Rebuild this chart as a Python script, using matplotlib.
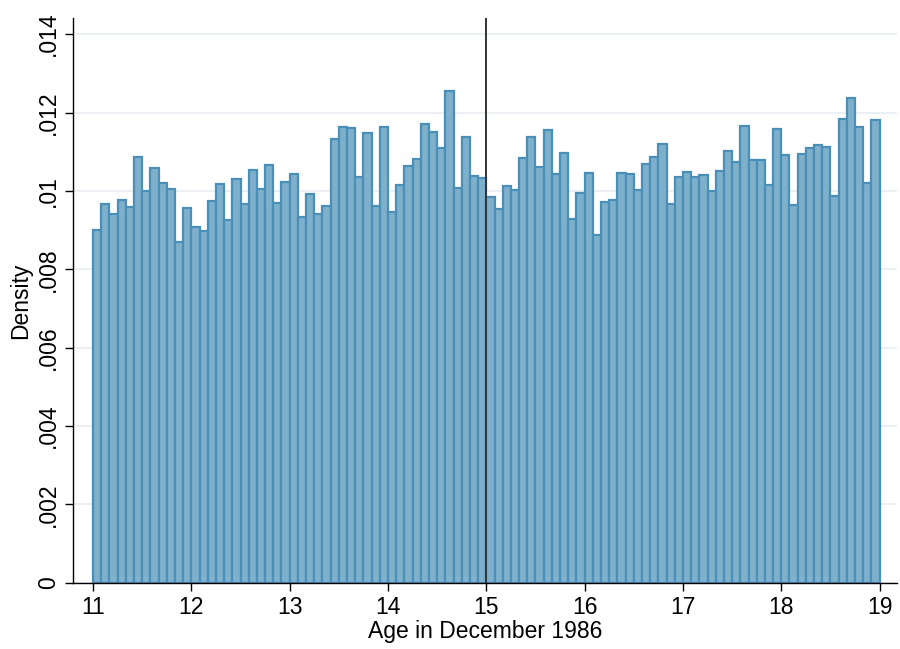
import numpy as np
import matplotlib
matplotlib.use("Agg")
import matplotlib.pyplot as plt

plt.rcParams['font.family'] = ['Liberation Sans Narrow', 'Liberation Sans', 'DejaVu Sans']

# monthly bins of age, 11 to 19
bin_start = 11.0
bin_width = 1 / 12
density = [
    0.00900, 0.00966, 0.00941, 0.00976, 0.00959, 0.01086, 0.00999, 0.01058, 0.01020, 0.01004, 0.00871, 0.00956,
    0.00907, 0.00897, 0.00974, 0.01017, 0.00925, 0.01030, 0.00966, 0.01053, 0.01004, 0.01066, 0.00969, 0.01022,
    0.01043, 0.00933, 0.00992, 0.00941, 0.00961, 0.01132, 0.01162, 0.01160, 0.01035, 0.01147, 0.00961, 0.01162,
    0.00946, 0.01015, 0.01063, 0.01081, 0.01170, 0.01150, 0.01109, 0.01254, 0.01007, 0.01137, 0.01037, 0.01032,
    0.00984, 0.00953, 0.01012, 0.01002, 0.01083, 0.01137, 0.01060, 0.01155, 0.01043, 0.01096, 0.00928, 0.00994,
    0.01045, 0.00887, 0.00971, 0.00976, 0.01045, 0.01043, 0.01002, 0.01068, 0.01086, 0.01119, 0.00966, 0.01035,
    0.01048, 0.01035, 0.01040, 0.00999, 0.01050, 0.01101, 0.01073, 0.01165, 0.01078, 0.01078, 0.01015, 0.01157,
    0.01091, 0.00963, 0.01094, 0.01109, 0.01117, 0.01111, 0.00986, 0.01183, 0.01236, 0.01162, 0.01020, 0.01180,
]
cutoff = 15
x_ticks = [11, 12, 13, 14, 15, 16, 17, 18, 19]
y_ticks = [0, 0.002, 0.004, 0.006, 0.008, 0.01, 0.012, 0.014]
y_labels = ['0', '.002', '.004', '.006', '.008', '.01', '.012', '.014']

lefts = bin_start + np.arange(len(density)) * bin_width

fig = plt.figure(figsize=(9, 6.49), dpi=100)
ax = fig.add_axes([0.081, 0.102, 0.916, 0.870])

ax.bar(lefts, density, width=bin_width, align='edge',
       color='#7fb0cb', edgecolor='#4a8fb8', linewidth=1.6, zorder=2)
ax.axvline(cutoff - 0.005, color='#333333', linewidth=1.4, zorder=3)

ax.set_xlim(10.795, 19.18)
ax.set_ylim(0, 0.01441)
ax.set_xticks(x_ticks)
ax.set_yticks(y_ticks)
ax.set_yticklabels(y_labels, rotation=90, va='center')
ax.tick_params(axis='both', labelsize=16.5, length=6, width=1, direction='out', colors='black')
ax.grid(axis='y', color='#e6edf2', linewidth=1.2, zorder=0)
ax.set_axisbelow(True)

for s in ['top', 'right']:
    ax.spines[s].set_visible(False)
for s in ['left', 'bottom']:
    ax.spines[s].set_linewidth(1.0)

ax.set_xlabel('Age in December 1986', fontsize=16.5, labelpad=1)
ax.set_ylabel('Density', fontsize=16.5, labelpad=3)

fig.savefig('out.png', dpi=100, facecolor='white')
